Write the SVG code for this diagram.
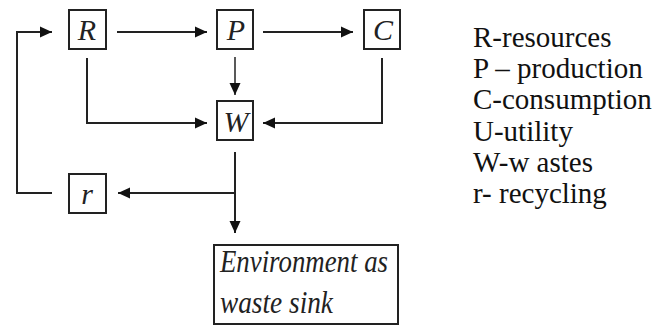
<svg xmlns="http://www.w3.org/2000/svg" width="656" height="329" viewBox="0 0 656 329">
<defs>
<marker id="ah" markerUnits="userSpaceOnUse" markerWidth="12" markerHeight="12" viewBox="0 0 12 12" refX="12" refY="6" orient="auto">
<path d="M0,0.5 L12,6 L0,11.5 Z" fill="#111"/>
</marker>
</defs>
<g id="connectors" fill="none" stroke="#222" stroke-width="2">
<path d="M117,32 H207" marker-end="url(#ah)"/>
<path d="M263,32 H353" marker-end="url(#ah)"/>
<path d="M235,57 V95" stroke-width="1.5" marker-end="url(#ah)"/>
<path d="M87,58 V123 H207" marker-end="url(#ah)"/>
<path d="M382,58 V123 H263" marker-end="url(#ah)"/>
<path d="M235,152 V233" marker-end="url(#ah)"/>
<path d="M235,193 H118" marker-end="url(#ah)"/>
<path d="M52,193 H17 V32 H52" marker-end="url(#ah)"/>
</g>
<g id="node-R">
<rect x="69" y="10" width="37" height="39" fill="#fff" stroke="#222" stroke-width="2"/>
<text x="87" y="40" font-family="Liberation Serif" font-style="italic" font-size="30" text-anchor="middle" fill="#222">R</text>
</g>
<g id="node-P">
<rect x="217" y="10" width="36" height="39" fill="#fff" stroke="#222" stroke-width="2"/>
<text x="236" y="40" font-family="Liberation Serif" font-style="italic" font-size="30" text-anchor="middle" fill="#222">P</text>
</g>
<g id="node-C">
<rect x="364" y="10" width="36" height="39" fill="#fff" stroke="#222" stroke-width="2"/>
<text x="383" y="40" font-family="Liberation Serif" font-style="italic" font-size="30" text-anchor="middle" fill="#222">C</text>
</g>
<g id="node-W">
<rect x="217" y="101" width="36" height="39" fill="#fff" stroke="#222" stroke-width="2"/>
<text x="236" y="132" font-family="Liberation Serif" font-style="italic" font-size="30" text-anchor="middle" fill="#222">W</text>
</g>
<g id="node-r">
<rect x="69" y="174" width="37" height="39" fill="#fff" stroke="#222" stroke-width="2"/>
<text x="87" y="204" font-family="Liberation Serif" font-style="italic" font-size="30" text-anchor="middle" fill="#222">r</text>
</g>
<g id="node-env">
<rect x="214" y="245" width="184" height="79" fill="#fff" stroke="#222" stroke-width="2"/>
<text x="220" y="272" font-family="Liberation Serif" font-style="italic" font-size="31" fill="#222" textLength="168" lengthAdjust="spacingAndGlyphs">Environment as</text>
<text x="220" y="313" font-family="Liberation Serif" font-style="italic" font-size="31" fill="#222" textLength="113" lengthAdjust="spacingAndGlyphs">waste sink</text>
</g>
<g id="legend">
<text x="473" y="47" font-family="Liberation Serif" font-size="29" fill="#111">R-resources</text>
<text x="473" y="78" font-family="Liberation Serif" font-size="29" fill="#111">P – production</text>
<text x="473" y="109" font-family="Liberation Serif" font-size="29" fill="#111">C-consumption</text>
<text x="473" y="141" font-family="Liberation Serif" font-size="29" fill="#111">U-utility</text>
<text x="473" y="172" font-family="Liberation Serif" font-size="29" fill="#111">W-w astes</text>
<text x="473" y="203" font-family="Liberation Serif" font-size="29" fill="#111">r- recycling</text>
</g>
</svg>
